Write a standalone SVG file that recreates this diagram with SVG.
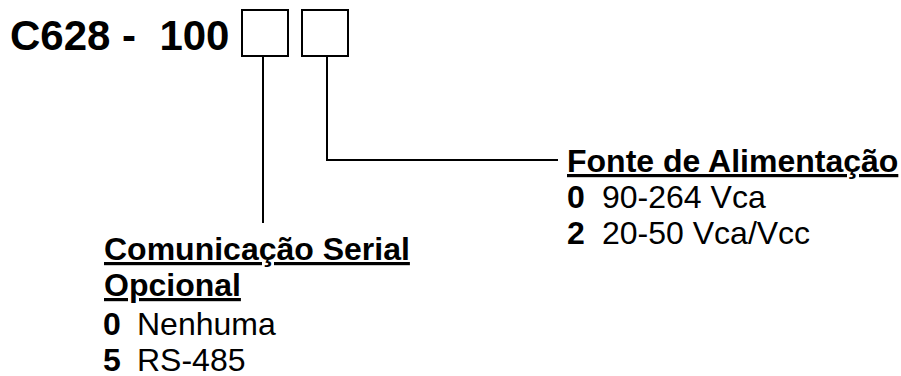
<svg xmlns="http://www.w3.org/2000/svg" width="901" height="376" viewBox="0 0 901 376">
<style>
text{font-family:"Liberation Sans",Arial,sans-serif;fill:#000}
.title{font-size:42px;font-weight:bold}
.h{font-size:32px;font-weight:bold;text-decoration:underline}
.k{font-size:32px;font-weight:bold}
.v{font-size:32px}
.box{fill:#fff;stroke:#000;stroke-width:2}
.ln{fill:none;stroke:#000;stroke-width:2}
</style>
<rect width="901" height="376" fill="#fff"/>
<g id="title"><text class="title" x="10" y="50" xml:space="preserve">C628 -  100</text></g>
<g id="box1"><rect class="box" x="242" y="10" width="46" height="46"/></g>
<g id="box2"><rect class="box" x="302" y="10" width="46" height="46"/></g>
<g id="connectors">
<path class="ln" d="M263 56 V223"/>
<path class="ln" d="M327 56 V160 H558"/>
</g>
<g id="serial">
<text class="h" x="104" y="260">Comunicação Serial</text>
<text class="h" x="104" y="296">Opcional</text>
<text class="k" x="103" y="335">0</text><text class="v" x="137" y="335">Nenhuma</text>
<text class="k" x="103" y="371">5</text><text class="v" x="137" y="371">RS-485</text>
</g>
<g id="fonte">
<text class="h" x="567" y="172">Fonte de Alimentação</text>
<text class="k" x="567" y="208">0</text><text class="v" x="602" y="208">90-264 Vca</text>
<text class="k" x="567" y="244">2</text><text class="v" x="602" y="244">20-50 Vca/Vcc</text>
</g>
</svg>
